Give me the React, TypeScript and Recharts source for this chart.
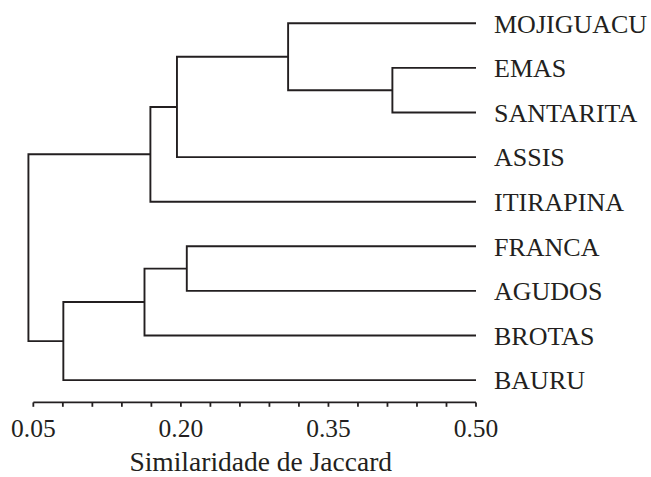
import React from 'react';
import { ScatterChart, Scatter, XAxis, YAxis, ReferenceLine, Label } from 'recharts';

// Leaves, top to bottom
const leafNames = ['MOJIGUACU', 'EMAS', 'SANTARITA', 'ASSIS', 'ITIRAPINA', 'FRANCA', 'AGUDOS', 'BROTAS', 'BAURU'];
// Leaf branches run to the right end of the similarity axis
const leafSimilarity = 0.5;
// Linkage: node ids 0..8 are leaves, merge k creates node 9 + k
const mergeLeft = [1, 0, 10, 11, 5, 13, 14, 12];
const mergeRight = [2, 9, 3, 4, 6, 7, 8, 15];
const mergeHeight = [0.415, 0.309, 0.196, 0.169, 0.206, 0.163, 0.0805, 0.045];

const axisTicks = [0.05, 0.08, 0.11, 0.14, 0.17, 0.2, 0.23, 0.26, 0.29, 0.32, 0.35, 0.38, 0.41, 0.44, 0.47, 0.5];
const majorTicks = [0.05, 0.2, 0.35, 0.5];
const leafTicks = [0, 1, 2, 3, 4, 5, 6, 7, 8];

const INK = '#231f20';
const FONT = '"Liberation Serif", "Times New Roman", serif';

// Build node positions from the linkage
const nodeX: number[] = leafNames.map(() => leafSimilarity);
const nodeY: number[] = leafNames.map((_, i) => i);
mergeHeight.forEach((h, k) => {
  const l = mergeLeft[k];
  const r = mergeRight[k];
  nodeX.push(h);
  nodeY.push((nodeY[l] + nodeY[r]) / 2);
});

const branches = mergeHeight.map((h, k) => {
  const l = mergeLeft[k];
  const r = mergeRight[k];
  return [
    { x: nodeX[l], y: nodeY[l] },
    { x: h, y: nodeY[l] },
    { x: h, y: nodeY[r] },
    { x: nodeX[r], y: nodeY[r] },
  ];
});

const renderNothing = () => <g />;

const isMajor = (v: number) => majorTicks.some((m) => Math.abs(m - v) < 1e-6);

export default function App() {
  return (
    <div style={{ position: 'absolute', left: 0, top: 0, width: 651, height: 477, background: '#fff' }}>
      <ScatterChart
        width={651}
        height={477}
        margin={{ top: 23.3, right: 15, bottom: 2.6, left: 23.5 }}
        style={{ fontFamily: FONT }}
      >
        <XAxis
          type="number"
          dataKey="x"
          domain={[0.04, 0.5]}
          ticks={axisTicks}
          interval={0}
          height={72}
          axisLine={false}
          tickLine={{ stroke: INK, strokeWidth: 1.8 }}
          tickSize={4.4}
          tickMargin={11.8}
          tick={{ fontSize: 25.5, fill: INK, fontFamily: FONT }}
          tickFormatter={(v: number) => (isMajor(v) ? v.toFixed(2) : '')}
        >
          <Label
            value="Similaridade de Jaccard"
            position="insideBottom"
            offset={3}
            dx={11}
            style={{ fontSize: 27.5, fill: INK, fontFamily: FONT }}
          />
        </XAxis>
        <YAxis
          type="number"
          dataKey="y"
          orientation="right"
          reversed
          domain={[0, 8.5]}
          ticks={leafTicks}
          interval={0}
          width={160}
          axisLine={false}
          tickLine={false}
          tickMargin={12}
          tick={{ fontSize: 26, fill: INK, fontFamily: FONT, textAnchor: 'start' }}
          tickFormatter={(i: number) => leafNames[i] ?? ''}
        />
        <ReferenceLine
          segment={[
            { x: axisTicks[0], y: 8.5 },
            { x: axisTicks[axisTicks.length - 1], y: 8.5 },
          ]}
          stroke={INK}
          strokeWidth={1.8}
          ifOverflow="visible"
        />
        {branches.map((pts, k) => (
          <Scatter
            key={k}
            data={pts}
            line={{ stroke: INK, strokeWidth: 1.9 }}
            lineType="joint"
            shape={renderNothing}
            fill="none"
            isAnimationActive={false}
          />
        ))}
      </ScatterChart>
    </div>
  );
}
